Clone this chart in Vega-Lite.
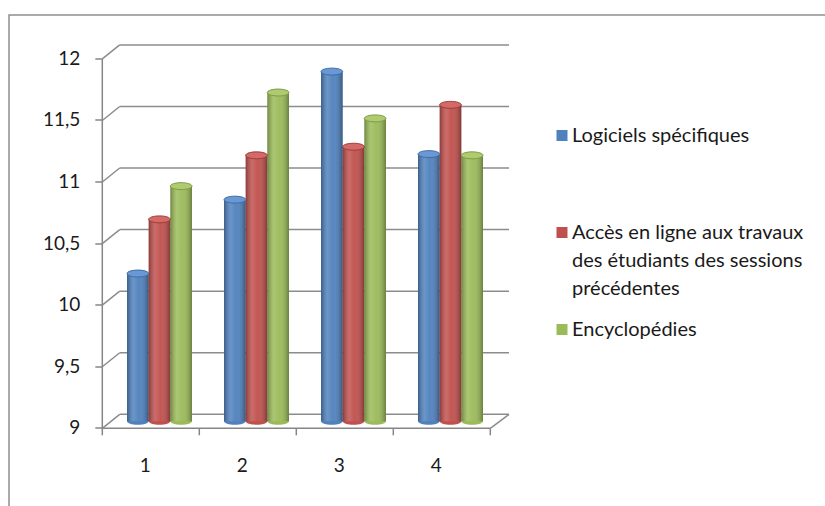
{
  "$schema": "https://vega.github.io/schema/vega-lite/v6.json",
  "autosize": {"type": "none"},
  "padding": {"left": 9, "top": 15, "right": 0, "bottom": 0},
  "width": 830,
  "height": 495,
  "background": "white",
  "config": {
    "view": {"stroke": "#8f8f8f", "strokeWidth": 1.5},
    "font": "Lato",
    "style": {"guide-label": {"lineHeight": 28}}
  },
  "datasets": {
    "scores": [
      {"groupe": "1", "serie": "Logiciels spécifiques", "valeur": 10.2},
      {"groupe": "1", "serie": "Accès en ligne aux travaux des étudiants des sessions précédentes", "valeur": 10.64},
      {"groupe": "1", "serie": "Encyclopédies", "valeur": 10.91},
      {"groupe": "2", "serie": "Logiciels spécifiques", "valeur": 10.8},
      {"groupe": "2", "serie": "Accès en ligne aux travaux des étudiants des sessions précédentes", "valeur": 11.16},
      {"groupe": "2", "serie": "Encyclopédies", "valeur": 11.67},
      {"groupe": "3", "serie": "Logiciels spécifiques", "valeur": 11.84},
      {"groupe": "3", "serie": "Accès en ligne aux travaux des étudiants des sessions précédentes", "valeur": 11.23},
      {"groupe": "3", "serie": "Encyclopédies", "valeur": 11.46},
      {"groupe": "4", "serie": "Logiciels spécifiques", "valeur": 11.17},
      {"groupe": "4", "serie": "Accès en ligne aux travaux des étudiants des sessions précédentes", "valeur": 11.57},
      {"groupe": "4", "serie": "Encyclopédies", "valeur": 11.16}
    ],
    "niveaux": [
      {"niveau": 9}, {"niveau": 9.5}, {"niveau": 10}, {"niveau": 10.5},
      {"niveau": 11}, {"niveau": 11.5}, {"niveau": 12}
    ]
  },
  "layer": [
    {
      "data": {"name": "niveaux"},
      "mark": {"type": "rule", "color": "#8c8c8c", "strokeWidth": 1.5, "xOffset": 8.7, "x2Offset": 10, "yOffset": -7, "y2Offset": -7},
      "encoding": {
        "x": {"datum": "1", "bandPosition": 0, "type": "nominal"},
        "x2": {"datum": "4", "bandPosition": 1},
        "y": {"field": "niveau", "type": "quantitative"}
      }
    },
    {
      "data": {"name": "niveaux"},
      "mark": {"type": "rule", "color": "#8c8c8c", "strokeWidth": 1.5, "xOffset": -8.7, "x2Offset": 8.7, "yOffset": 7, "y2Offset": -7},
      "encoding": {
        "x": {"datum": "1", "bandPosition": 0, "type": "nominal"},
        "x2": {"datum": "1", "bandPosition": 0},
        "y": {"field": "niveau", "type": "quantitative"},
        "y2": {"field": "niveau"}
      }
    },
    {
      "data": {"values": [{"niveau": 9}]},
      "mark": {"type": "rule", "color": "#8c8c8c", "strokeWidth": 1.5, "xOffset": -8.7, "x2Offset": 10, "yOffset": 7, "y2Offset": -7},
      "encoding": {
        "x": {"datum": "4", "bandPosition": 1, "type": "nominal"},
        "x2": {"datum": "4", "bandPosition": 1},
        "y": {"field": "niveau", "type": "quantitative"},
        "y2": {"field": "niveau"}
      }
    },
    {
      "data": {"name": "scores"},
      "mark": {"type": "point", "shape": "M-1,0A1,0.32,0,1,0,1,0A1,0.32,0,1,0,-1,0Z", "size": 470, "filled": true, "opacity": 1},
      "encoding": {
        "x": {"field": "groupe", "type": "nominal"},
        "xOffset": {"field": "serie", "type": "nominal"},
        "y": {"datum": 9, "type": "quantitative"},
        "color": {"field": "serie", "type": "nominal"}
      }
    },
    {
      "data": {"name": "scores"},
      "mark": {"type": "bar"},
      "encoding": {
        "x": {
          "field": "groupe", "type": "nominal",
          "scale": {"range": [102, 490], "paddingInner": 0, "paddingOuter": 0},
          "axis": {
            "title": null, "orient": "bottom", "offset": -73, "translate": -8.7,
            "tickBand": "extent", "labelAngle": 0,
            "domainColor": "#868686", "domainWidth": 1.5,
            "tickColor": "#868686", "tickWidth": 1.5, "tickSize": 7,
            "labelFont": "Lato", "labelFontSize": 19, "labelColor": "#1a1a1a", "labelPadding": 31
          }
        },
        "xOffset": {
          "field": "serie", "type": "nominal",
          "scale": {
            "domain": ["Logiciels spécifiques", "Accès en ligne aux travaux des étudiants des sessions précédentes", "Encyclopédies"],
            "paddingInner": 0, "paddingOuter": 0.74
          }
        },
        "y": {
          "field": "valeur", "type": "quantitative",
          "scale": {"domain": [9, 12], "range": [406.3, 36.9], "zero": false, "nice": false},
          "axis": {
            "title": null, "orient": "left", "offset": -86.3, "translate": 7, "grid": false,
            "values": [9, 9.5, 10, 10.5, 11, 11.5, 12],
            "labelExpr": "replace(toString(datum.value), '.', ',')",
            "domainColor": "#868686", "domainWidth": 1.5,
            "tickColor": "#868686", "tickWidth": 1.5, "tickSize": 7,
            "labelFont": "Lato", "labelFontSize": 19, "labelColor": "#1a1a1a", "labelPadding": 15
          }
        },
        "y2": {"datum": 9},
        "color": {
          "field": "serie", "type": "nominal",
          "scale": {
            "domain": ["Logiciels spécifiques", "Accès en ligne aux travaux des étudiants des sessions précédentes", "Encyclopédies"],
            "range": ["#4f81bd", "#c0504d", "#9bbb59"]
          },
          "legend": {
            "title": null, "orient": "none", "legendX": 543, "legendY": 110.5,
            "symbolType": "square", "symbolSize": 121, "symbolStrokeWidth": 0,
            "labelFont": "Lato", "labelFontSize": 20, "labelColor": "#1a1a1a",
            "labelOffset": 0, "labelLimit": 400, "rowPadding": 21, "padding": 0,
            "labelExpr": "indexof(datum.label, 'Accès') == 0 ? ['Accès en ligne aux travaux', 'des étudiants des sessions', 'précédentes'] : indexof(datum.label, 'Logiciels') == 0 ? [datum.label, '', ''] : datum.label",
            "labelBaseline": "middle"
          }
        }
      }
    },
    {
      "data": {"name": "scores"},
      "mark": {
        "type": "bar",
        "fill": {
          "gradient": "linear", "x1": 0, "x2": 1, "y1": 0, "y2": 0,
          "stops": [
            {"offset": 0, "color": "rgba(0,0,0,0.28)"},
            {"offset": 0.3, "color": "rgba(255,255,255,0.16)"},
            {"offset": 0.55, "color": "rgba(255,255,255,0.04)"},
            {"offset": 1, "color": "rgba(0,0,0,0.32)"}
          ]
        }
      },
      "encoding": {
        "x": {"field": "groupe", "type": "nominal"},
        "xOffset": {"field": "serie", "type": "nominal"},
        "y": {"field": "valeur", "type": "quantitative"},
        "y2": {"datum": 9}
      }
    },
    {
      "data": {"name": "scores"},
      "mark": {"type": "point", "shape": "M-1,0A1,0.32,0,1,0,1,0A1,0.32,0,1,0,-1,0Z", "size": 470, "filled": true, "opacity": 1, "strokeWidth": 1},
      "encoding": {
        "x": {"field": "groupe", "type": "nominal"},
        "xOffset": {"field": "serie", "type": "nominal"},
        "y": {"field": "valeur", "type": "quantitative"},
        "fill": {
          "field": "serie", "type": "nominal", "legend": null,
          "scale": {
            "domain": ["Logiciels spécifiques", "Accès en ligne aux travaux des étudiants des sessions précédentes", "Encyclopédies"],
            "range": ["#6a98d4", "#d36a67", "#afcb70"]
          }
        },
        "stroke": {
          "field": "serie", "type": "nominal", "legend": null,
          "scale": {
            "domain": ["Logiciels spécifiques", "Accès en ligne aux travaux des étudiants des sessions précédentes", "Encyclopédies"],
            "range": ["#3d6ca6", "#9e3b39", "#7e9c45"]
          }
        }
      }
    }
  ]
}
